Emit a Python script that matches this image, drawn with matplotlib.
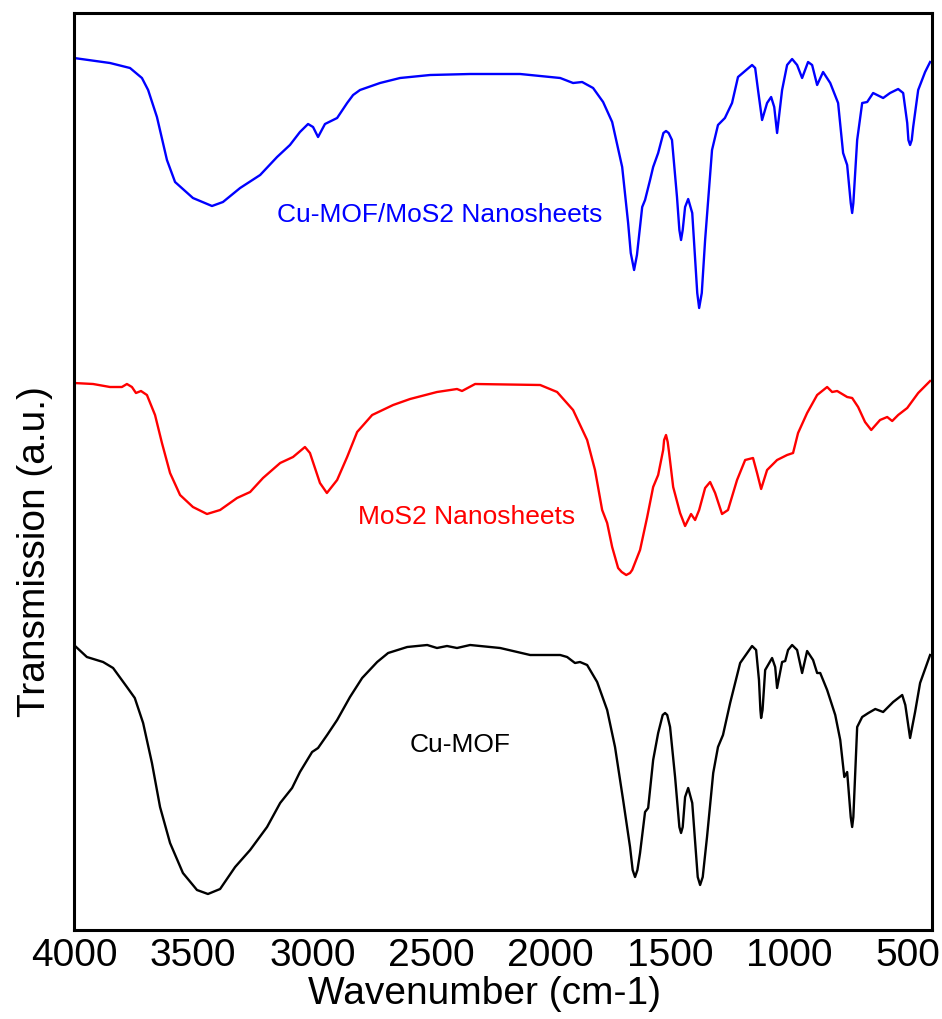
import matplotlib
matplotlib.use("Agg")
import matplotlib.pyplot as plt

plt.rcParams['font.family'] = ['Liberation Sans', 'DejaVu Sans']

# ---------------- data ----------------
wn_blue = [4000, 3849, 3765, 3715, 3689, 3652, 3610, 3576, 3501, 3421, 3375, 3303,
           3219, 3148, 3094, 3052, 3018, 2997, 2976, 2947, 2896, 2854, 2829, 2800,
           2716, 2632, 2506, 2338, 2128, 1960, 1906, 1868, 1822, 1780, 1742, 1700,
           1675, 1664, 1650, 1638, 1616, 1604, 1583, 1570, 1549, 1527, 1516, 1505,
           1491, 1470, 1460, 1453, 1446, 1436, 1423, 1406, 1385, 1377, 1366, 1352,
           1323, 1298, 1269, 1239, 1214, 1155, 1142, 1130, 1113, 1092, 1075, 1062,
           1050, 1029, 1008, 987, 966, 945, 920, 903, 882, 857, 827, 794, 773, 756,
           741, 735, 730, 714, 693, 672, 647, 605, 576, 542, 521, 504, 499, 492, 485,
           479, 458, 429, 408]
t_blue = [87.2, 86.7, 86.2, 85.2, 84.0, 81.3, 77.0, 74.8, 73.2, 72.4, 72.8, 74.2,
          75.5, 77.3, 78.5, 79.8, 80.6, 80.3, 79.3, 80.6, 81.2, 82.7, 83.5, 84.0,
          84.7, 85.2, 85.5, 85.6, 85.6, 85.2, 84.7, 84.8, 84.2, 82.8, 80.8, 76.3,
          70.7, 67.7, 66.0, 67.5, 72.3, 73.0, 75.0, 76.3, 77.7, 79.7, 79.9, 79.7,
          79.0, 73.3, 70.0, 69.0, 70.0, 72.3, 73.1, 71.7, 63.7, 62.2, 63.7, 69.0,
          78.0, 80.5, 81.2, 82.7, 85.3, 86.5, 86.2, 84.0, 81.0, 82.7, 83.3, 82.3,
          79.7, 84.0, 86.5, 87.1, 86.5, 85.2, 86.8, 86.5, 84.5, 85.8, 84.7, 82.7,
          77.7, 76.5, 72.7, 71.7, 72.7, 79.0, 82.7, 82.8, 83.7, 83.2, 83.7, 84.1,
          83.7, 80.7, 79.0, 78.5, 79.0, 80.3, 84.0, 85.8, 86.8]

wn_red = [4000, 3920, 3849, 3799, 3778, 3757, 3740, 3719, 3694, 3660, 3631, 3597,
          3555, 3501, 3442, 3387, 3316, 3261, 3207, 3135, 3081, 3031, 3010, 2968,
          2939, 2896, 2854, 2812, 2749, 2661, 2590, 2477, 2393, 2372, 2317, 2044,
          1973, 1906, 1847, 1814, 1784, 1763, 1742, 1717, 1702, 1683, 1667, 1658,
          1625, 1595, 1570, 1549, 1528, 1524, 1516, 1509, 1503, 1486, 1457, 1436,
          1411, 1394, 1377, 1352, 1331, 1310, 1281, 1256, 1218, 1184, 1151, 1134,
          1117, 1092, 1050, 1008, 983, 962, 924, 882, 840, 819, 798, 756, 735, 710,
          681, 655, 618, 588, 567, 542, 504, 458, 408]
t_red = [54.7, 54.6, 54.3, 54.3, 54.6, 54.3, 53.7, 53.9, 53.5, 51.5, 48.7, 45.7,
         43.5, 42.3, 41.6, 42.0, 43.2, 43.8, 45.2, 46.7, 47.3, 48.3, 47.7, 44.7,
         43.7, 45.0, 47.3, 49.8, 51.5, 52.5, 53.1, 53.8, 54.1, 53.9, 54.6, 54.5,
         53.8, 52.0, 49.0, 46.0, 42.0, 40.7, 38.3, 36.2, 35.8, 35.5, 35.7, 36.0,
         38.0, 41.3, 44.3, 45.5, 48.0, 49.0, 49.5, 48.8, 47.7, 44.3, 41.7, 40.4,
         41.6, 41.0, 42.0, 44.2, 44.8, 43.7, 41.6, 42.0, 45.0, 47.0, 47.2, 45.7,
         44.1, 46.0, 47.0, 47.5, 47.7, 49.7, 51.7, 53.5, 54.3, 53.8, 53.9, 53.3,
         53.2, 52.3, 50.8, 50.0, 51.0, 51.3, 50.9, 51.5, 52.2, 53.7, 54.9]

wn_black = [4000, 3946, 3878, 3836, 3778, 3745, 3710, 3673, 3639, 3597, 3543, 3484,
            3438, 3387, 3324, 3261, 3190, 3135, 3085, 3052, 3001, 2976, 2938, 2896,
            2842, 2791, 2728, 2682, 2602, 2518, 2477, 2435, 2393, 2338, 2212, 2086,
            1960, 1931, 1898, 1877, 1847, 1805, 1763, 1730, 1696, 1667, 1656, 1646,
            1636, 1625, 1604, 1591, 1570, 1549, 1530, 1520, 1511, 1499, 1478, 1460,
            1453, 1446, 1436, 1423, 1406, 1383, 1373, 1362, 1344, 1318, 1298, 1277,
            1247, 1205, 1155, 1138, 1126, 1120, 1117, 1111, 1100, 1071, 1058, 1050,
            1029, 1016, 1004, 987, 966, 945, 924, 899, 882, 869, 840, 806, 785, 768,
            756, 741, 735, 730, 714, 693, 667, 638, 605, 563, 525, 512, 492, 471, 450,
            408]
t_black = [28.5, 27.3, 26.8, 26.2, 24.3, 23.2, 20.7, 16.7, 12.3, 8.7, 5.7, 4.0,
           3.6, 4.1, 6.3, 8.0, 10.3, 12.7, 14.2, 15.8, 17.8, 18.2, 19.5, 21.0, 23.3,
           25.2, 26.8, 27.7, 28.3, 28.5, 28.2, 28.4, 28.2, 28.5, 28.2, 27.5, 27.5,
           27.3, 26.7, 26.8, 26.5, 24.8, 22.0, 18.3, 13.0, 8.3, 6.0, 5.3, 6.0, 7.7,
           11.8, 12.2, 17.0, 19.7, 21.5, 21.7, 21.5, 20.3, 15.3, 10.3, 9.7, 10.3,
           13.3, 14.2, 12.7, 5.3, 4.5, 5.3, 9.3, 15.7, 18.3, 19.5, 22.7, 26.7, 28.4,
           28.0, 25.0, 22.0, 21.2, 22.0, 26.0, 27.2, 26.3, 24.2, 26.8, 26.9, 28.0,
           28.5, 28.0, 25.7, 27.9, 27.0, 25.7, 25.7, 24.0, 21.5, 19.0, 15.3, 15.8,
           11.3, 10.3, 11.3, 20.3, 21.3, 21.7, 22.1, 21.8, 22.8, 23.5, 22.5, 19.2,
           21.8, 24.7, 27.5]

series_labels = ["Cu-MOF/MoS2 Nanosheets", "MoS2 Nanosheets", "Cu-MOF"]
series_colors = ["#0000ff", "#ff0000", "#000000"]
label_wn = [2464, 2351, 2380]
label_t = [71.5, 41.3, 18.5]
xticks = [4000, 3500, 3000, 2500, 2000, 1500, 1000, 500]

# ---------------- figure ----------------
fig = plt.figure(figsize=(9.42, 10.19), dpi=100)
ax = fig.add_axes([0.07856, 0.08734, 0.91083, 0.8999])

for wn, t, c in zip([wn_blue, wn_red, wn_black], [t_blue, t_red, t_black], series_colors):
    ax.plot(wn, t, color=c, lw=1.7, solid_joinstyle='round')

for lab, c, x, y in zip(series_labels, series_colors, label_wn, label_t):
    ax.text(x, y, lab, color=c, fontsize=19, ha='center', va='center')

ax.set_xlim(4000, 400)
ax.set_ylim(0, 91.7)
ax.set_xticks(xticks)
ax.set_xticklabels([str(v) for v in xticks])
ax.set_yticks([])
ax.tick_params(axis='x', length=0, pad=6, labelsize=28)
for s in ax.spines.values():
    s.set_linewidth(2.2)

ax.set_xlabel("Wavenumber (cm-1)", fontsize=28)
ax.set_ylabel("Transmission (a.u.)", fontsize=28)
ax.xaxis.set_label_coords(0.479, -0.050)
ax.yaxis.set_label_coords(-0.0245, 0.413)

fig.savefig("out.png", dpi=100)
